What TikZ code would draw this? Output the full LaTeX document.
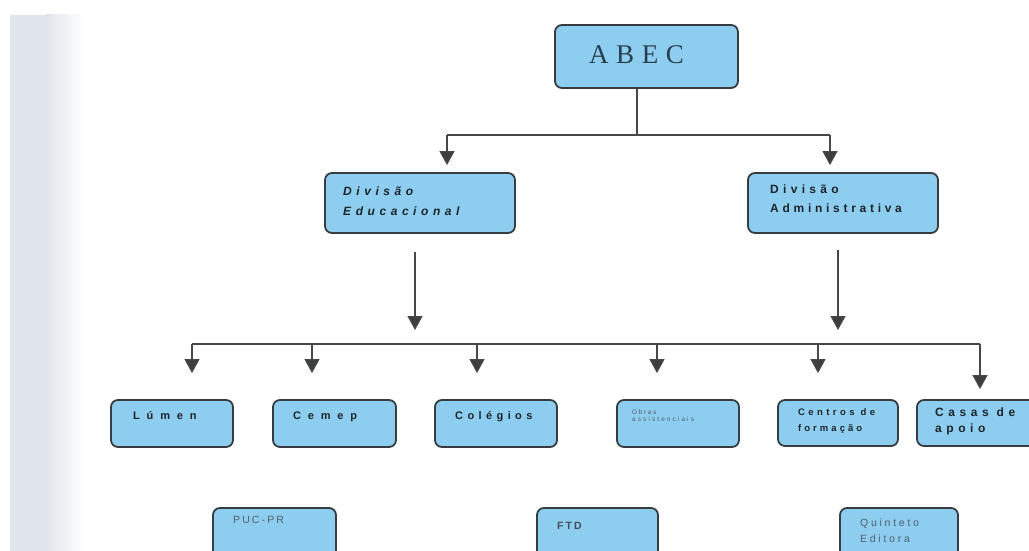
\documentclass[tikz,border=0pt]{standalone}
\usepackage{fontspec}
\setmainfont{Liberation Serif}
\setsansfont{Liberation Sans}
\usetikzlibrary{arrows.meta,calc}
\definecolor{boxfill}{RGB}{140,205,240}
\definecolor{boxline}{RGB}{55,60,62}
\definecolor{conn}{RGB}{70,72,72}
\definecolor{tipcol}{RGB}{60,62,62}
\definecolor{txtdark}{RGB}{30,36,40}
\definecolor{txtgray}{RGB}{85,95,105}
\definecolor{abectxt}{RGB}{40,62,75}
\definecolor{stripgray}{RGB}{224,228,235}
\newcommand\lsp[1]{\addfontfeatures{LetterSpace=#1}}
\tikzset{
  box/.style={draw=boxline, fill=boxfill, line width=1.8pt, rounded corners=7pt, inner sep=0pt},
  line/.style={draw=conn, line width=1.3pt},
  arr/.style={draw=conn, line width=1.3pt, -{Triangle[width=15pt,length=14pt,fill=tipcol]}},
  txt/.style={inner sep=0pt, anchor=base west, text=txtdark, font=\sffamily\bfseries\fontsize{11}{13}\selectfont},
  txtdiv/.style={txt, font=\sffamily\bfseries\fontsize{12}{14}\selectfont},
  txtreg/.style={inner sep=0pt, anchor=base west, text=txtgray, font=\sffamily\fontsize{10.5}{12}\selectfont},
}
\begin{document}
\begin{tikzpicture}[x=1pt,y=-1pt]
\useasboundingbox (0,0) rectangle (1029,551);
\clip (0,0) rectangle (1029,551);
\fill[white] (0,0) rectangle (1029,551);
% left scan strip
\fill[stripgray] (10,15) rectangle (45,551);
\shade[left color=stripgray, right color=white] (45,15) rectangle (85,551);

% boxes
\node[box, minimum width=183pt, minimum height=63pt] (abec) at (646.5,56.5) {};
\node[box, minimum width=190pt, minimum height=60pt] (educ) at (420,203) {};
\node[box, minimum width=190pt, minimum height=60pt] (adm) at (843,203) {};
\node[box, minimum width=122pt, minimum height=47pt] (lumen) at (172,423.5) {};
\node[box, minimum width=123pt, minimum height=47pt] (cemep) at (334.5,423.5) {};
\node[box, minimum width=122pt, minimum height=47pt] (coleg) at (496,423.5) {};
\node[box, minimum width=122pt, minimum height=47pt] (obras) at (678,423.5) {};
\node[box, minimum width=120pt, minimum height=46pt] (centros) at (838,423) {};
\node[box, minimum width=123pt, minimum height=46pt] (casas) at (978.5,423) {};
\node[box, minimum width=123pt, minimum height=62pt] (puc) at (274.5,539) {};
\node[box, minimum width=121pt, minimum height=62pt] (ftd) at (597.5,539) {};
\node[box, minimum width=118pt, minimum height=62pt] (quint) at (899,539) {};

% texts
\node[inner sep=0pt, anchor=base west, text=abectxt, font=\rmfamily\fontsize{27}{30}\selectfont] (tabec) at (589,64) {\lsp{28}ABEC};
\node[txtdiv, font=\sffamily\bfseries\itshape\fontsize{12}{14}\selectfont] (teduc1) at (343,195) {\lsp{38}Divisão};
\node[txtdiv, font=\sffamily\bfseries\itshape\fontsize{12}{14}\selectfont] (teduc2) at (343,215) {\lsp{38}Educacional};
\node[txtdiv] (tadm1) at (770,193) {\lsp{36}Divisão};
\node[txtdiv] (tadm2) at (770,212) {\lsp{31}Administrativa};
\node[txt] (tlumen) at (133,419) {\lsp{62}Lúmen};
\node[txt] (tcemep) at (293,419) {\lsp{62}Cemep};
\node[txt] (tcoleg) at (455,419) {\lsp{40}Colégios};
\node[txtreg, font=\sffamily\fontsize{6.5}{7}\selectfont] (tobras1) at (632,414) {\lsp{25}Obras};
\node[txtreg, font=\sffamily\fontsize{6.5}{7}\selectfont] (tobras2) at (632,421.5) {\lsp{32}assistenciais};
\node[txt, font=\sffamily\bfseries\fontsize{9.5}{11}\selectfont] (tcentros1) at (798,415) {\lsp{36}Centros de};
\node[txt, font=\sffamily\bfseries\fontsize{9.5}{11}\selectfont] (tcentros2) at (798,431) {\lsp{32}formação};
\node[txt, font=\sffamily\bfseries\fontsize{12}{14}\selectfont] (tcasas1) at (935,416) {\lsp{38}Casas de};
\node[txt, font=\sffamily\bfseries\fontsize{12}{14}\selectfont] (tcasas2) at (935,432) {\lsp{38}apoio};
\node[txtreg] (tpuc) at (233,523) {\lsp{20}PUC-PR};
\node[txt, font=\sffamily\bfseries\fontsize{10.5}{12}\selectfont, text=txtgray!70!txtdark] (tftd) at (557,529) {\lsp{20}FTD};
\node[txtreg] (tquint1) at (860,526) {\lsp{26}Quinteto};
\node[txtreg] (tquint2) at (860,542) {\lsp{26}Editora};

% top connectors
\coordinate (t) at (637,135);
\coordinate (eL) at (447,135);
\coordinate (eR) at (830,135);
\draw[line] (t |- abec.south) -- (t);
\draw[line] (eL) -- (eR);
\draw[arr, shorten >=7pt] (eL) -- (eL |- educ.north);
\draw[arr, shorten >=7pt] (eR) -- (eR |- adm.north);

% middle connectors (free)
\coordinate (d1) at (415,252);
\coordinate (d1e) at (415,330);
\coordinate (d2) at (838,250);
\coordinate (d2e) at (838,330);
\draw[arr] (d1) -- (d1e);
\draw[arr] (d2) -- (d2e);

% bottom bus
\coordinate (b1) at (192,344);
\coordinate (b2) at (312,344);
\coordinate (b3) at (477,344);
\coordinate (b4) at (657,344);
\coordinate (b5) at (818,344);
\coordinate (b6) at (980,344);
\draw[line] (b1) -- (b6);
\draw[arr, shorten >=26pt] (b1) -- (b1 |- lumen.north);
\draw[arr, shorten >=26pt] (b2) -- (b2 |- cemep.north);
\draw[arr, shorten >=26pt] (b3) -- (b3 |- coleg.north);
\draw[arr, shorten >=26pt] (b4) -- (b4 |- obras.north);
\draw[arr, shorten >=26pt] (b5) -- (b5 |- centros.north);
\draw[arr, shorten >=10pt] (b6) -- (b6 |- casas.north);
\end{tikzpicture}
\end{document}
